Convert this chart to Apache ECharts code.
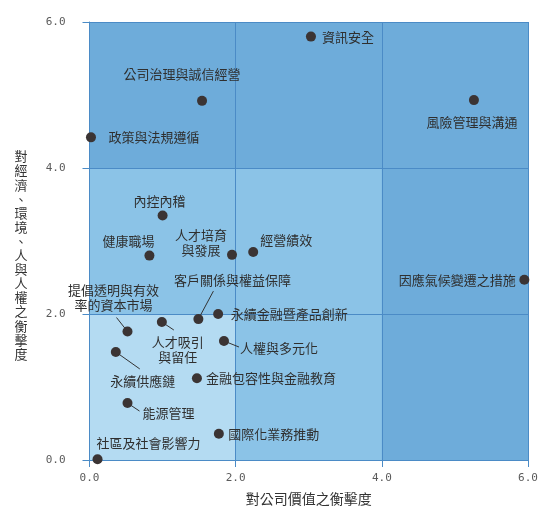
<!DOCTYPE html>
<html>
<head>
<meta charset="utf-8">
<script src="https://cdn.jsdelivr.net/npm/echarts@6/dist/echarts.min.js"></script>
<style>
  html, body { margin: 0; padding: 0; background: #fff; }
  #chart { width: 548px; height: 514px; }
</style>
</head>
<body>
<div id="chart"></div>
<script>
// topics: [name, company value impact (x), ESG impact (y)]
const topics = [
  '資訊安全', '風險管理與溝通', '公司治理與誠信經營', '政策與法規遵循',
  '內控內稽', '健康職場', '人才培育\n與發展', '經營績效', '因應氣候變遷之措施',
  '客戶關係與權益保障', '永續金融暨產品創新', '提倡透明與有效\n率的資本市場',
  '人才吸引\n與留任', '人權與多元化', '永續供應鏈', '金融包容性與金融教育',
  '能源管理', '國際化業務推動', '社區及社會影響力'
]
const valueImpact = [3.03, 5.26, 1.54, 0.02, 1.0, 0.82, 1.95, 2.24, 5.95, 1.49, 1.76, 0.52, 0.99, 1.84, 0.36, 1.47, 0.52, 1.77, 0.11]
const esgImpact = [5.8, 4.93, 4.92, 4.42, 3.35, 2.8, 2.81, 2.85, 2.47, 1.93, 2.0, 1.76, 1.89, 1.63, 1.48, 1.12, 0.78, 0.36, 0.01]

// zone backgrounds: [x0, y0, x1, y1, colour]
const zones = [
  [0, 0, 6, 6, '#6eacda'],
  [0, 0, 4, 4, '#8bc3e7'],
  [0, 0, 2, 2, '#b4dbf2']
]

// label placement around each dot (text centre offset in px)
const labelOffsets = [
  [37, 0], [-2, 22], [-20, -27], [63, 0], [-3, -14], [-21, -15], [-31, -12], [33, -12], [-67, 0],
  [34, -39], [71, 0], [-14, -34], [16, 28], [55, 7], [27, 29], [74, 0], [41, 10], [55, 0], [51, -16]
]
// leader lines: [topic index, end offset from dot in px]
const leaders = [
  [9, [15, -28]], [11, [-11, -14]], [12, [12, 8]], [13, [15, 6]], [14, [24, 17]], [16, [12, 8]]
]

const font = '"Noto Sans CJK TC", "Noto Sans", sans-serif'
const tickFont = '"DejaVu Sans Mono", monospace'

const chart = echarts.init(document.getElementById('chart'))

const points = topics.map((name, i) => ({
  name: name,
  value: [valueImpact[i], esgImpact[i]],
  label: { offset: labelOffsets[i] }
}))

const axisCommon = {
  type: 'value',
  min: 0,
  max: 6,
  interval: 2,
  z: 3,
  axisLine: { show: true, lineStyle: { color: '#4b8bc6', width: 1 } },
  axisTick: { show: true, length: 7, lineStyle: { color: '#4b8bc6' } },
  splitLine: { show: true, lineStyle: { color: '#4b8bc6', width: 1 } },
  axisLabel: {
    color: '#5a5a5a',
    fontFamily: tickFont,
    fontSize: 11,
    formatter: v => v.toFixed(1)
  }
}

chart.setOption({
  animation: false,
  grid: { left: 89.5, right: 20, top: 22, bottom: 54 },
  xAxis: Object.assign({}, axisCommon, {
    name: '對公司價值之衡擊度',
    nameLocation: 'middle',
    nameGap: 32,
    nameTextStyle: { color: '#333', fontFamily: font, fontSize: 14 },
    axisLabel: Object.assign({}, axisCommon.axisLabel, { margin: 13 })
  }),
  yAxis: Object.assign({}, axisCommon, {
    // two blank lines push the stacked title down a little
    name: '\n\n' + '對經濟、環境、人與人權之衡擊度'.split('').join('\n'),
    nameLocation: 'middle',
    nameRotate: 0,
    nameGap: 62,
    nameTextStyle: { color: '#333', fontFamily: font, fontSize: 13, lineHeight: 14.1 },
    axisLabel: Object.assign({}, axisCommon.axisLabel, { margin: 24 })
  }),
  series: [
    {
      type: 'scatter',
      z: 1,
      silent: true,
      data: [],
      markArea: {
        silent: true,
        data: zones.map(z => [
          { coord: [z[0], z[1]], itemStyle: { color: z[4], opacity: 1 } },
          { coord: [z[2], z[3]] }
        ])
      }
    },
    {
      type: 'scatter',
      z: 5,
      symbolSize: 10,
      itemStyle: { color: '#3b3434', opacity: 1 },
      label: {
        show: true,
        position: 'inside',
        formatter: '{b}',
        color: '#2f2f2f',
        fontFamily: font,
        fontSize: 13,
        lineHeight: 15,
        align: 'center'
      },
      data: points
    }
  ]
})

// leader lines start at the dot (through the chart's own scales)
const leaderLines = leaders.map(([i, off]) => {
  const p = chart.convertToPixel({ gridIndex: 0 }, [valueImpact[i], esgImpact[i]])
  return {
    type: 'line',
    z: 4,
    silent: true,
    shape: { x1: p[0], y1: p[1], x2: p[0] + off[0], y2: p[1] + off[1] },
    style: { stroke: '#333', lineWidth: 1 }
  }
})
chart.setOption({ graphic: leaderLines })
</script>
</body>
</html>
